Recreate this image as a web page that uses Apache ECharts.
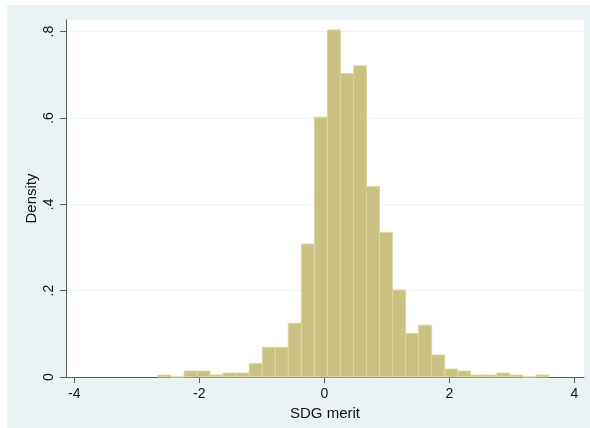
<!DOCTYPE html>
<html>
<head>
<meta charset="utf-8">
<script src="https://cdn.jsdelivr.net/npm/echarts@6/dist/echarts.min.js"></script>
<style>
html,body{margin:0;padding:0;background:#ffffff;}
#chart{width:590px;height:428px;}
</style>
</head>
<body>
<div id="chart"></div>
<script>
// Histogram of SDG merit (Stata-style density histogram)
const binStart = -2.661;
const binWidth = 0.2085;
const densities = [
  0.0046, 0, 0.0139, 0.0139, 0.0046, 0.0092, 0.0092, 0.031, 0.069, 0.069,
  0.1245, 0.308, 0.602, 0.804, 0.703, 0.721, 0.441, 0.335, 0.2015, 0.101,
  0.120, 0.051, 0.0185, 0.0139, 0.0046, 0.0046, 0.0092, 0.0046, 0, 0.0046
];
const xTicks = [-4, -2, 0, 2, 4];
const yTicks = [0, 0.2, 0.4, 0.6, 0.8];
const xTitle = 'SDG merit';
const yTitle = 'Density';

const barData = densities.map((d, i) => [binStart + i * binWidth, binStart + (i + 1) * binWidth, d]);

const chart = echarts.init(document.getElementById('chart'), null, {renderer: 'canvas'});
const font = 'Liberation Sans, Arial, Helvetica, sans-serif';
const axisColor = '#555c5e';

chart.setOption({
  animation: false,
  backgroundColor: '#ffffff',
  graphic: [{
    type: 'rect', z: -10, left: 7, top: 5,
    shape: {width: 583, height: 423},
    style: {fill: '#eaf2f3'}
  }, {
    type: 'rect', z: -9, left: 66, top: 20,
    shape: {width: 518, height: 357},
    style: {fill: '#ffffff'}
  }],
  grid: {left: 66, top: 20, right: 6, bottom: 51, containLabel: false},
  xAxis: {
    type: 'value',
    min: -4.133, max: 4.155,
    name: xTitle, nameLocation: 'middle', nameGap: 25,
    nameTextStyle: {fontFamily: font, fontSize: 15, color: '#111'},
    axisLine: {show: true, onZero: false, lineStyle: {color: axisColor, width: 1}},
    axisTick: {show: true, length: 6, customValues: xTicks, lineStyle: {color: axisColor}},
    axisLabel: {customValues: xTicks, fontFamily: font, fontSize: 14, color: '#111', margin: 10,
      formatter: v => String(v)},
    splitLine: {show: false}
  },
  yAxis: {
    type: 'value',
    min: 0, max: 0.827,
    name: yTitle, nameLocation: 'middle', nameGap: 27, nameRotate: 90,
    nameMoveOverlap: false,
    nameTextStyle: {fontFamily: font, fontSize: 15, color: '#111'},
    axisLine: {show: true, onZero: false, lineStyle: {color: axisColor, width: 1}},
    axisTick: {show: true, length: 6, customValues: yTicks, lineStyle: {color: axisColor}},
    axisLabel: {customValues: yTicks, rotate: 90, fontFamily: font, fontSize: 14, color: '#111', margin: 10,
      formatter: v => v === 0 ? '0' : String(Math.round(v * 10) / 10).replace(/^0/, '')},
    splitLine: {show: true, lineStyle: {color: '#eaf2f3', width: 1}}
  },
  series: [{
    type: 'custom',
    data: barData,
    encode: {x: [0, 1], y: 2},
    renderItem: function (params, api) {
      const p0 = api.coord([api.value(0), api.value(2)]);
      const p1 = api.coord([api.value(1), 0]);
      return {
        type: 'rect',
        shape: {x: p0[0], y: p0[1], width: p1[0] - p0[0], height: p1[1] - p0[1]},
        style: {fill: '#c9c283', stroke: '#dcd6a2', lineWidth: 1}
      };
    }
  }]
});
</script>
</body>
</html>
